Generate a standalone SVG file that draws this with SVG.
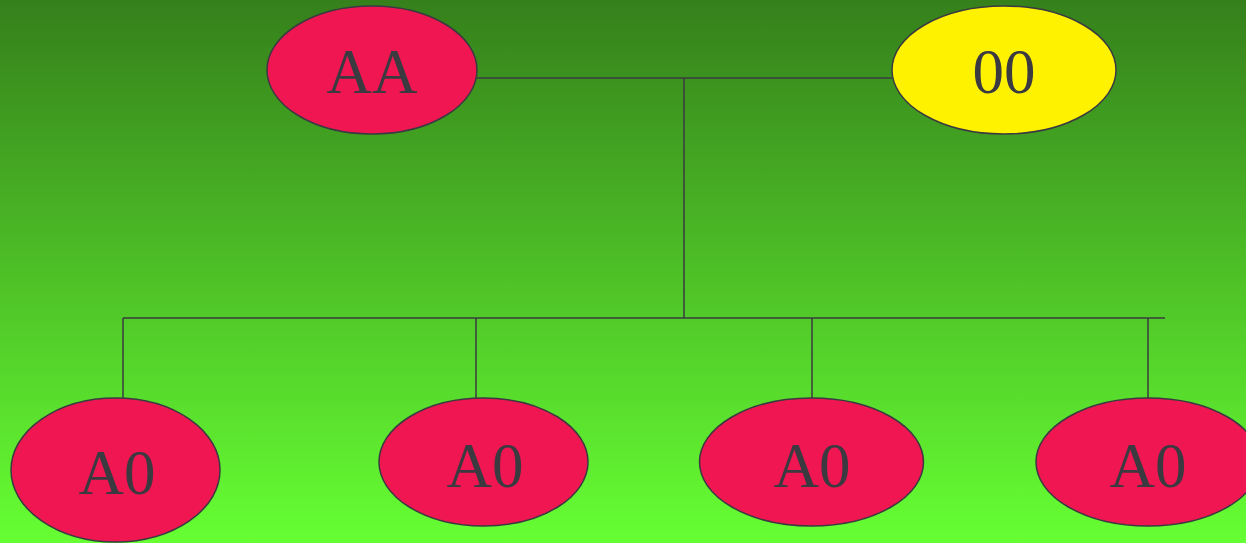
<svg xmlns="http://www.w3.org/2000/svg" width="1246" height="543" viewBox="0 0 1246 543">
<defs>
<linearGradient id="bg" x1="0" y1="0" x2="0" y2="1">
<stop offset="0" stop-color="#35801b"/>
<stop offset="1" stop-color="#66ff33"/>
</linearGradient>
</defs>
<style>
.node ellipse{stroke:#3a3a40;stroke-width:1.5}
.red{fill:#ef1652}
.yellow{fill:#fff200}
.node text{font-family:"Liberation Serif","Times New Roman",serif;font-size:63px;fill:#3a3a40;text-anchor:middle}
#connectors path{fill:none;stroke:#3a3a40;stroke-width:1.5}
</style>
<rect x="0" y="0" width="1246" height="543" fill="url(#bg)"/>
<g id="connectors">
<path d="M477 78 H892"/>
<path d="M684 78 V318"/>
<path d="M123 318 H1165"/>
<path d="M123 318 V398"/>
<path d="M476 318 V398"/>
<path d="M812 318 V398"/>
<path d="M1148 318 V398"/>
</g>
<g id="nodeAA" class="node">
<ellipse class="red" cx="372" cy="70" rx="105" ry="64"/>
<text x="372" y="93">AA</text>
</g>
<g id="node00" class="node">
<ellipse class="yellow" cx="1004" cy="70" rx="112" ry="64"/>
<text x="1004" y="93">00</text>
</g>
<g id="nodeA0a" class="node">
<ellipse class="red" cx="115.5" cy="470" rx="104.5" ry="72"/>
<text x="117" y="494">A0</text>
</g>
<g id="nodeA0b" class="node">
<ellipse class="red" cx="483.5" cy="462" rx="104.5" ry="64"/>
<text x="485" y="487">A0</text>
</g>
<g id="nodeA0c" class="node">
<ellipse class="red" cx="811.5" cy="462" rx="112" ry="64"/>
<text x="812" y="487">A0</text>
</g>
<g id="nodeA0d" class="node">
<ellipse class="red" cx="1148" cy="462" rx="112" ry="64"/>
<text x="1148" y="487">A0</text>
</g>
</svg>
